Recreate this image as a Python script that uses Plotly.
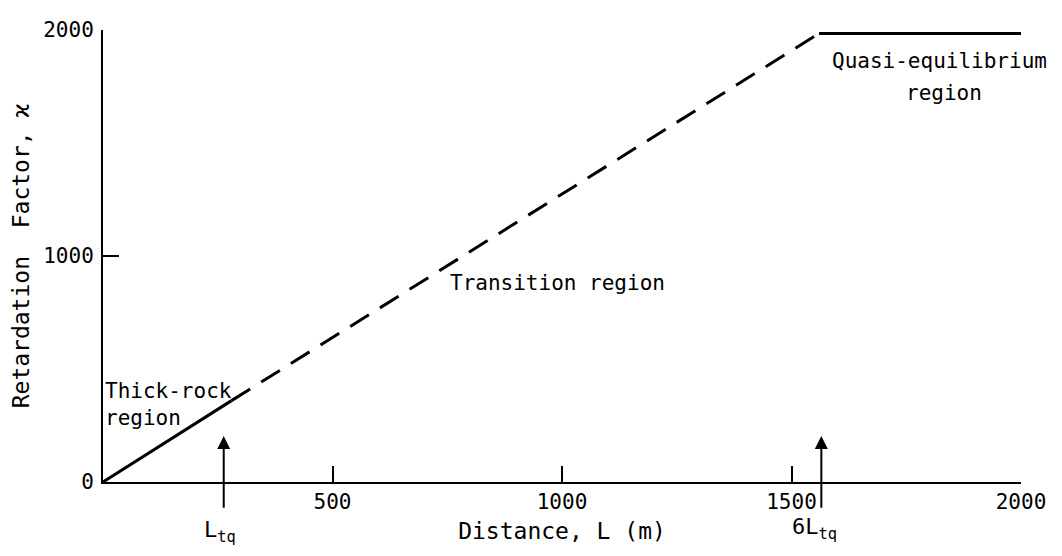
import plotly.graph_objects as go

# --- data ---
thick_x = [0, 280]
thick_y = [0, 360]
trans_x = [280, 1560]
trans_y = [360, 1985]
quasi_x = [1560, 2000]
quasi_y = [1985, 1985]

x_ticks = [500, 1000, 1500, 2000]
y_ticks = [0, 1000, 2000]

L_tq = 263
L_6tq = 1565

FONT = "DejaVu Sans Mono"

fig = go.Figure()
line_style = dict(color="black", width=3)
fig.add_trace(go.Scatter(x=thick_x, y=thick_y, mode="lines", line=line_style, showlegend=False))
fig.add_trace(go.Scatter(x=trans_x, y=trans_y, mode="lines",
                         line=dict(color="black", width=3, dash="22px,13px"), showlegend=False))
fig.add_trace(go.Scatter(x=quasi_x, y=quasi_y, mode="lines", line=line_style, showlegend=False))

annotations = []
for xv in [L_tq, L_6tq]:
    annotations.append(dict(x=xv, y=203, ax=xv, ay=-121, axref="x", ayref="y", xref="x", yref="y",
                            text="", showarrow=True, arrowhead=2, arrowsize=1.3, arrowwidth=2,
                            arrowcolor="black"))

def tfont(size=21):
    return dict(family=FONT, size=size, color="black")

annotations += [
    dict(x=0, y=343, xref="x", yref="y", text="Thick-rock<br>region", xanchor="left",
         align="left", font=tfont(), showarrow=False),
    dict(x=991, y=879, xref="x", yref="y", text="Transition region", font=tfont(), showarrow=False),
    dict(x=1822, y=1862, xref="x", yref="y", text="Quasi-equilibrium", font=tfont(), showarrow=False),
    dict(x=1833, y=1720, xref="x", yref="y", text="region", font=tfont(), showarrow=False),
    dict(x=254, y=0, yshift=-49, xref="x", yref="y", text="L<sub>tq</sub>",
         font=tfont(22), showarrow=False),
    dict(x=1550, y=0, yshift=-46, xref="x", yref="y", text="6L<sub>tq</sub>",
         font=tfont(22), showarrow=False),
]

fig.update_layout(
    width=1062, height=556,
    margin=dict(l=93, r=49, t=10, b=82),
    paper_bgcolor="white", plot_bgcolor="white",
    font=dict(family=FONT, size=21, color="black"),
    annotations=annotations,
    xaxis=dict(range=[0, 2000], tickvals=x_ticks, ticks="inside", ticklen=16, tickwidth=2,
               tickcolor="black", showline=True, linecolor="black", linewidth=2,
               showgrid=False, zeroline=False, tickfont=dict(size=21),
               ticklabeloverflow="allow",
               title=dict(text="Distance, L (m)", font=dict(size=23), standoff=10)),
    yaxis=dict(range=[0, 2000], tickvals=y_ticks, ticks="inside", ticklen=16, tickwidth=2,
               tickcolor="black", showline=True, linecolor="black", linewidth=2,
               showgrid=False, zeroline=False, tickfont=dict(size=21),
               ticklabeloverflow="allow", ticklabelstandoff=3,
               title=dict(text="Retardation  Factor, ϰ", font=dict(size=23), standoff=9)),
)

fig.write_html("out.html")
